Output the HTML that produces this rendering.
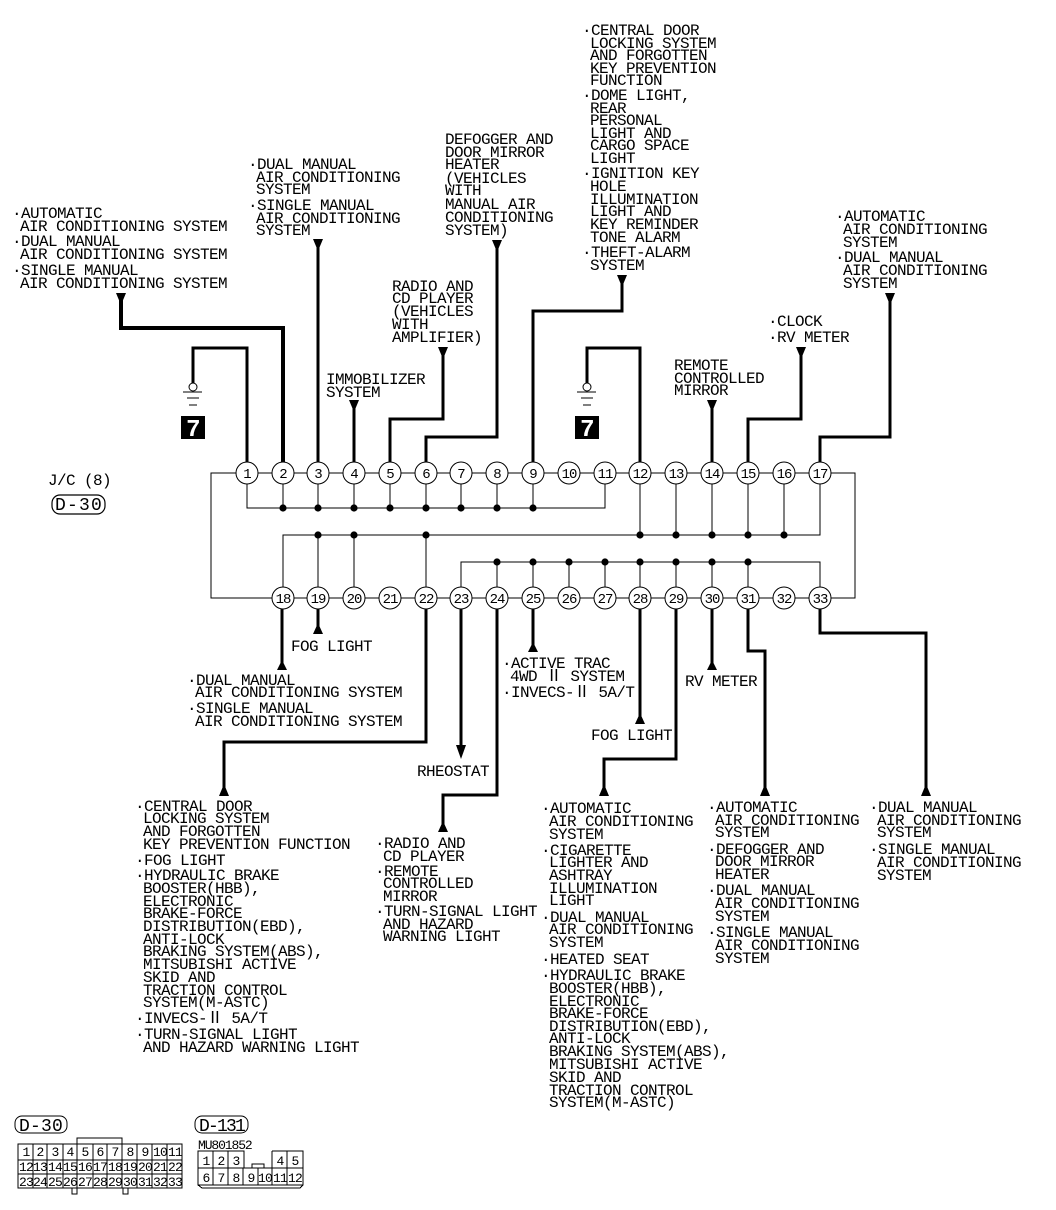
<!DOCTYPE html>
<html><head><meta charset="utf-8"><style>
html,body{margin:0;padding:0;background:#fff}
svg{display:block}
text{font-family:"Liberation Mono","DejaVu Sans Mono","Noto Sans CJK JP",monospace;font-size:16px;letter-spacing:-.6px;fill:#000}
.t{stroke:#000;stroke-width:1;fill:none;shape-rendering:crispEdges}
.w{stroke:#000;stroke-width:3.4;fill:none;shape-rendering:crispEdges}
.n text,text.n{font-size:14px;letter-spacing:-1px;text-anchor:middle}
.s text{font-size:13px;letter-spacing:-.8px;text-anchor:middle}
</style></head><body>
<svg width="1056" height="1210" viewBox="0 0 1056 1210" xmlns="http://www.w3.org/2000/svg">
<!-- thin wiring -->
<path class="t" d="M211 473H855V598H211ZM247 473V508H605V473M283 473V508M318 473V508M354 473V508M390 473V508M426 473V508M461 473V508M497 473V508M533 473V508"/>
<path class="t" d="M283 598V535H820V473M318 535V598M354 535V598M426 535V598M640 473V535M676 473V535M712 473V535M748 473V535M784 473V535"/>
<path class="t" d="M461 598V562H820V598M497 562V598M533 562V598M569 562V598M605 562V598M640 562V598M676 562V598M712 562V598M748 562V598"/>
<g fill="#000">
<circle cx="283" cy="508" r="3.6"/><circle cx="318" cy="508" r="3.6"/><circle cx="354" cy="508" r="3.6"/><circle cx="390" cy="508" r="3.6"/><circle cx="426" cy="508" r="3.6"/><circle cx="461" cy="508" r="3.6"/><circle cx="497" cy="508" r="3.6"/><circle cx="533" cy="508" r="3.6"/>
<circle cx="318" cy="535" r="3.6"/><circle cx="354" cy="535" r="3.6"/><circle cx="426" cy="535" r="3.6"/><circle cx="640" cy="535" r="3.6"/><circle cx="676" cy="535" r="3.6"/><circle cx="712" cy="535" r="3.6"/><circle cx="748" cy="535" r="3.6"/><circle cx="784" cy="535" r="3.6"/>
<circle cx="497" cy="562" r="3.6"/><circle cx="533" cy="562" r="3.6"/><circle cx="569" cy="562" r="3.6"/><circle cx="605" cy="562" r="3.6"/><circle cx="640" cy="562" r="3.6"/><circle cx="676" cy="562" r="3.6"/><circle cx="712" cy="562" r="3.6"/><circle cx="748" cy="562" r="3.6"/>
</g>
<!-- thick wires -->
<path class="w" d="M193 383V348H247V462"/>
<path class="w" style="stroke-width:4" d="M121 295V328H283V462"/>
<path class="w" d="M318 240V462"/>
<path class="w" d="M354 404V462"/>
<path class="w" d="M443 350V419H390V462"/>
<path class="w" d="M497 242V437H426V462"/>
<path class="w" d="M622 277V311H533V462"/>
<path class="w" d="M587 383V348H640V462"/>
<path class="w" d="M712 402V462"/>
<path class="w" d="M801 350V419H748V462"/>
<path class="w" d="M890 295V437H820V462"/>
<path class="w" d="M282 609V665"/>
<path class="w" d="M318 609V628"/>
<path class="w" d="M426 609V742H224V788"/>
<path class="w" d="M461 609V750"/>
<path class="w" d="M497 609V795H443V826"/>
<path class="w" d="M533 609V647"/>
<path class="w" d="M640 609V716"/>
<path class="w" d="M676 609V759H604V788"/>
<path class="w" d="M712 609V664"/>
<path class="w" d="M748 609V651H765V788"/>
<path class="w" d="M820 609V633H926V788"/>
<!-- arrowheads -->
<g fill="#000">
<path d="M116 293H126L121 305Z"/><path d="M313 239H323L318 251Z"/><path d="M349 400H359L354 412Z"/><path d="M438 347H448L443 359Z"/>
<path d="M492 240H502L497 252Z"/><path d="M617 275H627L622 287Z"/><path d="M707 400H717L712 412Z"/><path d="M796 347H806L801 359Z"/><path d="M885 293H895L890 305Z"/>
<path d="M277 670H287L282 660Z"/><path d="M313 634H323L318 623Z"/><path d="M528 652H538L533 642Z"/><path d="M635 724H645L640 713Z"/><path d="M707 670H717L712 660Z"/>
<path d="M456 745H466L461 759Z"/><path d="M219 796H229L224 784Z"/><path d="M438 832H448L443 821Z"/><path d="M599 796H609L604 784Z"/><path d="M760 796H770L765 784Z"/><path d="M921 796H931L926 784Z"/>
</g>
<!-- ground symbols -->
<g class="t"><circle cx="193" cy="387" r="4" style="shape-rendering:auto"/><path d="M183 392H202M187 398H199M189 405H197"/><circle cx="587" cy="387" r="4" style="shape-rendering:auto"/><path d="M577 392H596M581 398H593M583 405H591"/></g>
<rect x="181" y="416" width="24" height="23" fill="#000"/><rect x="575" y="416" width="24" height="23" fill="#000"/>
<text x="193" y="436" style="font-size:24px;font-weight:bold;fill:#fff;text-anchor:middle">7</text>
<text x="587" y="436" style="font-size:24px;font-weight:bold;fill:#fff;text-anchor:middle">7</text>
<!-- nodes -->
<g class="n" fill="#fff" stroke="#000" stroke-width="1">
<circle cx="247" cy="473" r="11"/><circle cx="283" cy="473" r="11"/><circle cx="318" cy="473" r="11"/><circle cx="354" cy="473" r="11"/><circle cx="390" cy="473" r="11"/><circle cx="426" cy="473" r="11"/><circle cx="461" cy="473" r="11"/><circle cx="497" cy="473" r="11"/><circle cx="533" cy="473" r="11"/><circle cx="569" cy="473" r="11"/><circle cx="605" cy="473" r="11"/><circle cx="640" cy="473" r="11"/><circle cx="676" cy="473" r="11"/><circle cx="712" cy="473" r="11"/><circle cx="748" cy="473" r="11"/><circle cx="784" cy="473" r="11"/><circle cx="820" cy="473" r="11"/>
<circle cx="283" cy="598" r="11"/><circle cx="318" cy="598" r="11"/><circle cx="354" cy="598" r="11"/><circle cx="390" cy="598" r="11"/><circle cx="426" cy="598" r="11"/><circle cx="461" cy="598" r="11"/><circle cx="497" cy="598" r="11"/><circle cx="533" cy="598" r="11"/><circle cx="569" cy="598" r="11"/><circle cx="605" cy="598" r="11"/><circle cx="640" cy="598" r="11"/><circle cx="676" cy="598" r="11"/><circle cx="712" cy="598" r="11"/><circle cx="748" cy="598" r="11"/><circle cx="784" cy="598" r="11"/><circle cx="820" cy="598" r="11"/>
</g>
<g class="n">
<text x="247" y="478">1</text><text x="283" y="478">2</text><text x="318" y="478">3</text><text x="354" y="478">4</text><text x="390" y="478">5</text><text x="426" y="478">6</text><text x="461" y="478">7</text><text x="497" y="478">8</text><text x="533" y="478">9</text><text x="569" y="478">10</text><text x="605" y="478">11</text><text x="640" y="478">12</text><text x="676" y="478">13</text><text x="712" y="478">14</text><text x="748" y="478">15</text><text x="784" y="478">16</text><text x="820" y="478">17</text>
<text x="283" y="603">18</text><text x="318" y="603">19</text><text x="354" y="603">20</text><text x="390" y="603">21</text><text x="426" y="603">22</text><text x="461" y="603">23</text><text x="497" y="603">24</text><text x="533" y="603">25</text><text x="569" y="603">26</text><text x="605" y="603">27</text><text x="640" y="603">28</text><text x="676" y="603">29</text><text x="712" y="603">30</text><text x="748" y="603">31</text><text x="784" y="603">32</text><text x="820" y="603">33</text>
</g>
<!-- top labels -->
<text x="12" y="218">·AUTOMATIC</text><text x="20" y="231">AIR CONDITIONING SYSTEM</text><text x="12" y="246">·DUAL MANUAL</text><text x="20" y="259">AIR CONDITIONING SYSTEM</text><text x="12" y="275">·SINGLE MANUAL</text><text x="20" y="288">AIR CONDITIONING SYSTEM</text>
<text x="248" y="169">·DUAL MANUAL</text><text x="256" y="182">AIR CONDITIONING</text><text x="256" y="194">SYSTEM</text><text x="248" y="210">·SINGLE MANUAL</text><text x="256" y="223">AIR CONDITIONING</text><text x="256" y="235">SYSTEM</text>
<text x="326" y="384">IMMOBILIZER</text><text x="326" y="397">SYSTEM</text>
<text x="392" y="291">RADIO AND</text><text x="392" y="303">CD PLAYER</text><text x="392" y="316">(VEHICLES</text><text x="392" y="329">WITH</text><text x="392" y="342">AMPLIFIER)</text>
<text x="445" y="144">DEFOGGER AND</text><text x="445" y="157">DOOR MIRROR</text><text x="445" y="169">HEATER</text><text x="445" y="183">(VEHICLES</text><text x="445" y="195">WITH</text><text x="445" y="209">MANUAL AIR</text><text x="445" y="222">CONDITIONING</text><text x="445" y="235">SYSTEM)</text>
<text x="582" y="35">·CENTRAL DOOR</text><text x="590" y="48">LOCKING SYSTEM</text><text x="590" y="60">AND FORGOTTEN</text><text x="590" y="73">KEY PREVENTION</text><text x="590" y="85">FUNCTION</text><text x="582" y="100">·DOME LIGHT,</text><text x="590" y="113">REAR</text><text x="590" y="125">PERSONAL</text><text x="590" y="138">LIGHT AND</text><text x="590" y="150">CARGO SPACE</text><text x="590" y="163">LIGHT</text><text x="582" y="178">·IGNITION KEY</text><text x="590" y="191">HOLE</text><text x="590" y="204">ILLUMINATION</text><text x="590" y="216">LIGHT AND</text><text x="590" y="229">KEY REMINDER</text><text x="590" y="242">TONE ALARM</text><text x="582" y="257">·THEFT-ALARM</text><text x="590" y="270">SYSTEM</text>
<text x="674" y="370">REMOTE</text><text x="674" y="383">CONTROLLED</text><text x="674" y="395">MIRROR</text>
<text x="768" y="326">·CLOCK</text><text x="768" y="342">·RV METER</text>
<text x="835" y="221">·AUTOMATIC</text><text x="843" y="234">AIR CONDITIONING</text><text x="843" y="247">SYSTEM</text><text x="835" y="262">·DUAL MANUAL</text><text x="843" y="275">AIR CONDITIONING</text><text x="843" y="288">SYSTEM</text>
<text x="48" y="485">J/C (8)</text>
<rect x="52" y="495" width="53" height="19" rx="8" fill="none" stroke="#000" stroke-width="1.2"/><text x="55" y="510" style="font-size:18px;letter-spacing:1.2px">D-30</text>
<!-- bottom labels -->
<text x="291" y="651">FOG LIGHT</text>
<text x="187" y="685">·DUAL MANUAL</text><text x="195" y="697">AIR CONDITIONING SYSTEM</text><text x="187" y="713">·SINGLE MANUAL</text><text x="195" y="726">AIR CONDITIONING SYSTEM</text>
<text x="502" y="668">·ACTIVE TRAC</text><text x="510" y="681">4WD Ⅱ SYSTEM</text><text x="502" y="697">·INVECS-Ⅱ 5A/T</text>
<text x="685" y="686">RV METER</text><text x="591" y="740">FOG LIGHT</text><text x="417" y="776">RHEOSTAT</text>
<text x="135" y="811">·CENTRAL DOOR</text><text x="143" y="823">LOCKING SYSTEM</text><text x="143" y="836">AND FORGOTTEN</text><text x="143" y="849">KEY PREVENTION FUNCTION</text><text x="135" y="865">·FOG LIGHT</text><text x="135" y="880">·HYDRAULIC BRAKE</text><text x="143" y="893">BOOSTER(HBB),</text><text x="143" y="906">ELECTRONIC</text><text x="143" y="918">BRAKE-FORCE</text><text x="143" y="931">DISTRIBUTION(EBD),</text><text x="143" y="944">ANTI-LOCK</text><text x="143" y="956">BRAKING SYSTEM(ABS),</text><text x="143" y="969">MITSUBISHI ACTIVE</text><text x="143" y="982">SKID AND</text><text x="143" y="995">TRACTION CONTROL</text><text x="143" y="1007">SYSTEM(M-ASTC)</text><text x="135" y="1023">·INVECS-Ⅱ 5A/T</text><text x="135" y="1039">·TURN-SIGNAL LIGHT</text><text x="143" y="1052">AND HAZARD WARNING LIGHT</text>
<text x="375" y="848">·RADIO AND</text><text x="383" y="861">CD PLAYER</text><text x="375" y="876">·REMOTE</text><text x="383" y="888">CONTROLLED</text><text x="383" y="901">MIRROR</text><text x="375" y="916">·TURN-SIGNAL LIGHT</text><text x="383" y="929">AND HAZARD</text><text x="383" y="941">WARNING LIGHT</text>
<text x="541" y="813">·AUTOMATIC</text><text x="549" y="826">AIR CONDITIONING</text><text x="549" y="839">SYSTEM</text><text x="541" y="855">·CIGARETTE</text><text x="549" y="867">LIGHTER AND</text><text x="549" y="880">ASHTRAY</text><text x="549" y="893">ILLUMINATION</text><text x="549" y="905">LIGHT</text><text x="541" y="922">·DUAL MANUAL</text><text x="549" y="934">AIR CONDITIONING</text><text x="549" y="947">SYSTEM</text><text x="541" y="964">·HEATED SEAT</text><text x="541" y="980">·HYDRAULIC BRAKE</text><text x="549" y="993">BOOSTER(HBB),</text><text x="549" y="1006">ELECTRONIC</text><text x="549" y="1018">BRAKE-FORCE</text><text x="549" y="1031">DISTRIBUTION(EBD),</text><text x="549" y="1043">ANTI-LOCK</text><text x="549" y="1056">BRAKING SYSTEM(ABS),</text><text x="549" y="1069">MITSUBISHI ACTIVE</text><text x="549" y="1082">SKID AND</text><text x="549" y="1095">TRACTION CONTROL</text><text x="549" y="1107">SYSTEM(M-ASTC)</text>
<text x="707" y="812">·AUTOMATIC</text><text x="715" y="825">AIR CONDITIONING</text><text x="715" y="837">SYSTEM</text><text x="707" y="854">·DEFOGGER AND</text><text x="715" y="866">DOOR MIRROR</text><text x="715" y="879">HEATER</text><text x="707" y="895">·DUAL MANUAL</text><text x="715" y="908">AIR CONDITIONING</text><text x="715" y="921">SYSTEM</text><text x="707" y="937">·SINGLE MANUAL</text><text x="715" y="950">AIR CONDITIONING</text><text x="715" y="963">SYSTEM</text>
<text x="869" y="812">·DUAL MANUAL</text><text x="877" y="825">AIR CONDITIONING</text><text x="877" y="837">SYSTEM</text><text x="869" y="854">·SINGLE MANUAL</text><text x="877" y="867">AIR CONDITIONING</text><text x="877" y="880">SYSTEM</text>
<!-- connector D-30 -->
<rect x="15" y="1116" width="52" height="17" rx="7" fill="none" stroke="#000"/><text x="19" y="1131" style="font-size:18px;letter-spacing:.2px">D-30</text>
<path class="t" d="M18 1144H182V1188H18ZM18 1160H182M18 1174H182M33 1144V1188M47 1144V1188M63 1144V1188M77 1144V1188M93 1144V1188M107 1144V1188M122 1144V1188M137 1144V1188M152 1144V1188M167 1144V1188M77 1144V1138H122V1144M72 1188V1194H77V1188M123 1188V1194H128V1188"/>
<g class="s">
<text x="26" y="1156">1</text><text x="40" y="1156">2</text><text x="55" y="1156">3</text><text x="70" y="1156">4</text><text x="85" y="1156">5</text><text x="100" y="1156">6</text><text x="115" y="1156">7</text><text x="130" y="1156">8</text><text x="145" y="1156">9</text><text x="160" y="1156">10</text><text x="175" y="1156">11</text>
<text x="26" y="1171">12</text><text x="40" y="1171">13</text><text x="55" y="1171">14</text><text x="70" y="1171">15</text><text x="85" y="1171">16</text><text x="100" y="1171">17</text><text x="115" y="1171">18</text><text x="130" y="1171">19</text><text x="145" y="1171">20</text><text x="160" y="1171">21</text><text x="175" y="1171">22</text>
<text x="26" y="1186">23</text><text x="40" y="1186">24</text><text x="55" y="1186">25</text><text x="70" y="1186">26</text><text x="85" y="1186">27</text><text x="100" y="1186">28</text><text x="115" y="1186">29</text><text x="130" y="1186">30</text><text x="145" y="1186">31</text><text x="160" y="1186">32</text><text x="175" y="1186">33</text>
</g>
<!-- connector D-131 -->
<rect x="195" y="1116" width="53" height="17" rx="7" fill="none" stroke="#000"/><text x="199" y="1131" style="font-size:18px;letter-spacing:-1.8px">D-131</text>
<text x="198" y="1149" style="font-size:13px;letter-spacing:-1.1px">MU801852</text>
<path class="t" d="M198 1151H244V1168H198ZM213 1151V1185M228 1151V1185M272 1151H303V1185H198V1168H303M272 1151V1185M287 1151V1185M243 1168V1185M258 1168V1185M252 1168V1164H264V1168M198 1185L202 1188H300L303 1185"/>
<g class="s">
<text x="206" y="1165">1</text><text x="221" y="1165">2</text><text x="236" y="1165">3</text><text x="280" y="1165">4</text><text x="295" y="1165">5</text>
<text x="206" y="1182">6</text><text x="221" y="1182">7</text><text x="236" y="1182">8</text><text x="251" y="1182">9</text><text x="265" y="1182">10</text><text x="280" y="1182">11</text><text x="295" y="1182">12</text>
</g>
</svg>
</body></html>
